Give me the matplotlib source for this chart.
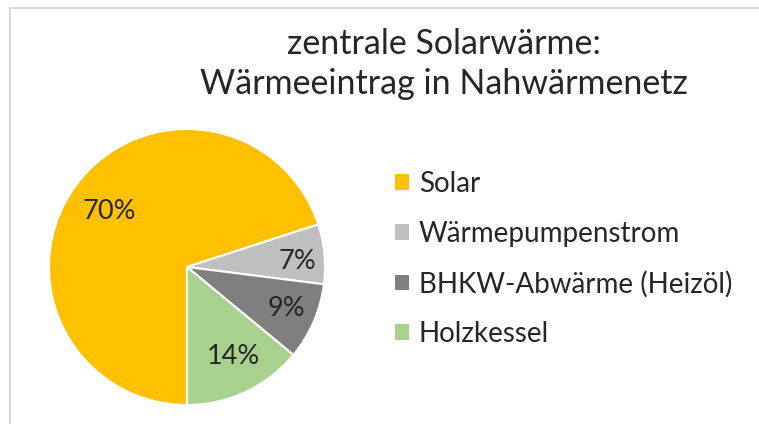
import matplotlib
matplotlib.use('Agg')
from matplotlib import pyplot as plt
from matplotlib.patches import Patch, Rectangle

# Share of heat fed into the local heating network
sources = ['Solar', 'Wärmepumpenstrom', 'BHKW-Abwärme (Heizöl)', 'Holzkessel']
shares = [70, 7, 9, 14]
colours = ['#FFC000', '#BFBFBF', '#7F7F7F', '#A9D18E']
title = 'zentrale Solarwärme:\nWärmeeintrag in Nahwärmenetz'

plt.rcParams['font.family'] = ['Lato', 'DejaVu Sans']

W, H = 759, 424
fig = plt.figure(figsize=(W/100, H/100), dpi=100)

# light chart frame running off the right and bottom edges
fig.patches.append(Rectangle((10/W, -0.1), 1.2, (H-8)/H + 0.1, transform=fig.transFigure,
                             fill=False, edgecolor='#D9D9D9', linewidth=1.5))

# pie centre (187, 267) px, radius 138 px
cx, cy, r = 187, 267, 138
ax = fig.add_axes([(cx-r)/W, (H-cy-r)/H, 2*r/W, 2*r/H])
wedges, texts = ax.pie(shares, colors=colours, startangle=-90, counterclock=False,
                       wedgeprops=dict(edgecolor='white', linewidth=1.5))
ax.set_xlim(-1, 1)
ax.set_ylim(-1, 1)
ax.set_aspect('equal')
ax.axis('off')

# percent labels, positioned inside each slice
label_pos = [(-0.56, 0.40), (0.80, 0.04), (0.72, -0.30), (0.34, -0.65)]
for (x, y), v in zip(label_pos, shares):
    ax.text(x, y, f'{v}%', ha='center', va='center', fontsize=19.5, color='#262626')

fig.text(444/W, 1 - 64/H, title, ha='center', va='center', fontsize=24.5,
         color='#262626', linespacing=1.32)

handles = [Patch(facecolor=c, edgecolor='none') for c in colours]
fig.legend(handles, sources, loc='center left', bbox_to_anchor=(395/W, 1 - 259/H),
           frameon=False, fontsize=20, handlelength=0.5, handleheight=0.5,
           handletextpad=0.35, labelspacing=0.86, borderpad=0, borderaxespad=0,
           labelcolor='#262626')

plt.savefig('out.png', dpi=100)
